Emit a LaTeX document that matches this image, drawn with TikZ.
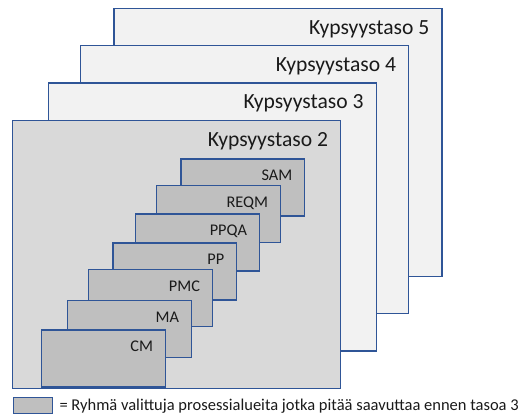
\documentclass[tikz,border=0pt]{standalone}
\usepackage{fontspec}
\setmainfont{Carlito}
\definecolor{edge}{HTML}{2F5597}
\definecolor{levelfill}{HTML}{F2F2F2}
\definecolor{basefill}{HTML}{D9D9D9}
\definecolor{areafill}{HTML}{BFBFBF}
\definecolor{ink}{HTML}{1A1A1A}
\tikzset{
  level/.style={draw=edge, line width=1.4pt, fill=levelfill, anchor=north west,
    outer sep=0pt, inner sep=0pt, minimum width=328pt, minimum height=268pt},
  levelname/.style={anchor=base east, inner sep=0pt, text=ink,
    font=\fontsize{21.6}{25}\selectfont},
  area/.style={draw=edge, line width=1.4pt, fill=areafill, anchor=north west,
    outer sep=0pt, inner sep=0pt, minimum width=123.5pt, minimum height=57pt},
  areaname/.style={anchor=base east, inner sep=0pt, text=ink,
    font=\fontsize{16.3}{19}\selectfont},
}
\begin{document}
\begin{tikzpicture}[x=1pt, y=-1pt]
\useasboundingbox (0,0) rectangle (530,414);

% maturity levels, back to front
\node[level] (L5) at (114,8.3) {};
\node[levelname] (L5t) at ([xshift=-12.5pt, yshift=-26pt]L5.north east) {Kypsyystaso 5};
\node[level] (L4) at (80.7,45.7) {};
\node[levelname] (L4t) at ([xshift=-12.5pt, yshift=-26pt]L4.north east) {Kypsyystaso 4};
\node[level] (L3) at (48.3,83) {};
\node[levelname] (L3t) at ([xshift=-12.5pt, yshift=-26pt]L3.north east) {Kypsyystaso 3};
\node[level, fill=basefill] (L2) at (12.7,120.3) {};
\node[levelname] (L2t) at ([xshift=-12.5pt, yshift=-26pt]L2.north east) {Kypsyystaso 2};

% process areas of level 2, back to front
\node[area] (SAM) at (181,159) {};
\node[areaname] (SAMt) at ([xshift=-12pt, yshift=-21.5pt]SAM.north east) {SAM};
\node[area] (REQM) at (156.7,185.7) {};
\node[areaname] (REQMt) at ([xshift=-12pt, yshift=-21.5pt]REQM.north east) {REQM};
\node[area] (PPQA) at (135.7,214) {};
\node[areaname] (PPQAt) at ([xshift=-12pt, yshift=-21.5pt]PPQA.north east) {PPQA};
\node[area] (PP) at (113,243) {};
\node[areaname] (PPt) at ([xshift=-12pt, yshift=-21.5pt]PP.north east) {PP};
\node[area] (PMC) at (88.7,269.7) {};
\node[areaname] (PMCt) at ([xshift=-12pt, yshift=-21.5pt]PMC.north east) {PMC};
\node[area] (MA) at (67.7,300.7) {};
\node[areaname] (MAt) at ([xshift=-12pt, yshift=-21.5pt]MA.north east) {MA};
\node[area] (CM) at (41.7,330) {};
\node[areaname] (CMt) at ([xshift=-12pt, yshift=-21.5pt]CM.north east) {CM};

% legend
\node[area, minimum width=39.4pt, minimum height=16pt] (key) at (13.3,397.3) {};
\node[anchor=base west, inner sep=0pt, text=ink, font=\fontsize{16.5}{19}\selectfont]
  (keyt) at (59.3,410.5) {= Ryhmä valittuja prosessialueita jotka pitää saavuttaa ennen tasoa 3};
\end{tikzpicture}
\end{document}
